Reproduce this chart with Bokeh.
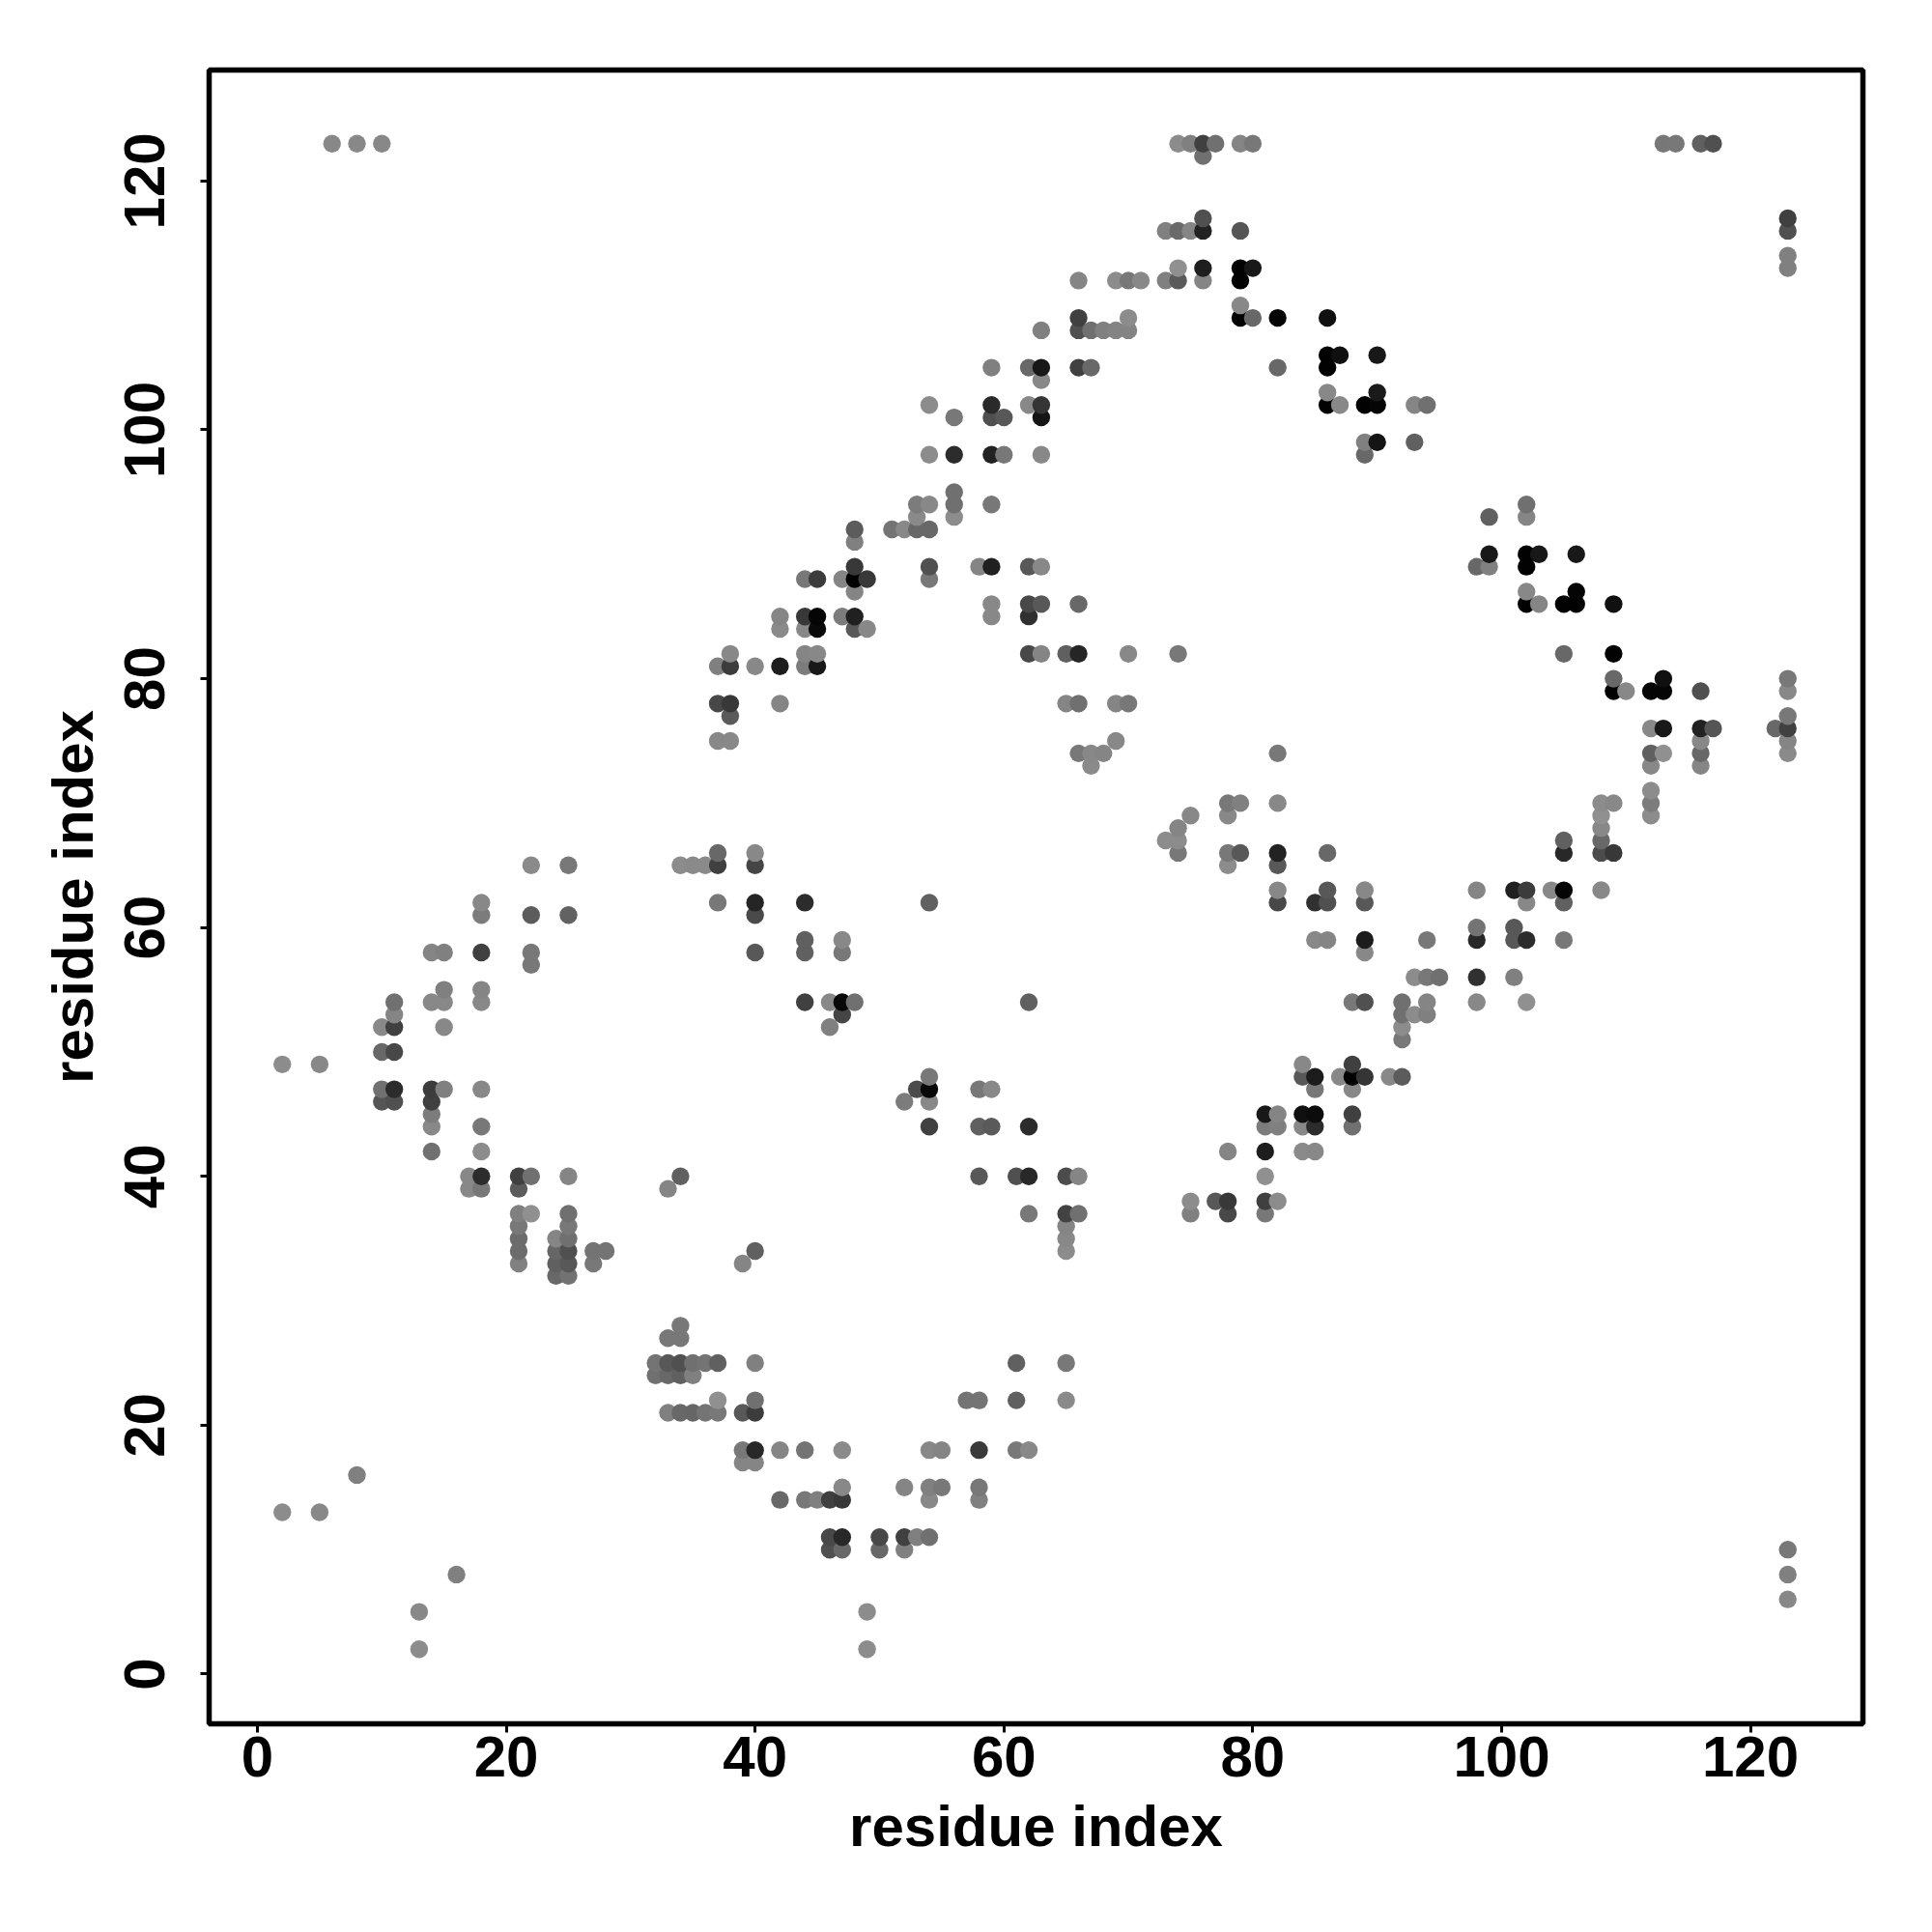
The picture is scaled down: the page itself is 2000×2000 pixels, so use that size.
from bokeh.embed import file_html
from bokeh.models import ColumnDataSource, FixedTicker, Range1d
from bokeh.plotting import figure
from bokeh.resources import INLINE

tick_values = [0, 20, 40, 60, 80, 100, 120]
axis_title = "residue index"

# One line per row of the contact map: residue j, the residues i in that row,
# and the grey level (0 = black, 255 = white) of each dot.
residue_j = (
    [123]*13 + [122]*1 + [117]*2 + [116]*6 + [114]*1 + [113]*5 + [112]*8 + [110]*1 +
    [109]*6 + [108]*6 + [106]*3 + [105]*7 + [104]*1 + [103]*2 + [102]*10 + [101]*4 +
    [99]*3 + [98]*6 + [95]*1 + [94]*5 + [93]*4 + [92]*5 + [91]*1 + [90]*4 + [89]*9 +
    [88]*6 + [87]*3 + [86]*9 + [85]*7 + [84]*5 + [82]*11 + [81]*6 + [80]*3 + [79]*6 +
    [78]*7 + [77]*2 + [76]*6 + [75]*5 + [74]*8 + [73]*3 + [71]*1 + [70]*6 + [69]*4 +
    [68]*2 + [67]*4 + [66]*10 + [65]*9 + [63]*9 + [62]*11 + [61]*4 + [60]*2 + [59]*10 +
    [58]*8 + [57]*1 + [56]*5 + [55]*2 + [54]*15 + [53]*5 + [52]*5 + [51]*1 + [50]*2 +
    [49]*4 + [48]*8 + [47]*11 + [46]*5 + [45]*6 + [44]*11 + [42]*6 + [40]*12 + [39]*4 +
    [38]*5 + [37]*9 + [36]*3 + [35]*4 + [34]*7 + [33]*5 + [32]*2 + [28]*1 + [27]*2 +
    [25]*9 + [24]*4 + [22]*6 + [21]*7 + [18]*10 + [17]*2 + [16]*1 + [15]*5 + [14]*7 +
    [13]*2 + [11]*6 + [10]*5 + [8]*2 + [6]*1 + [5]*2 + [2]*2
)
residue_i = [
    6, 8, 10, 74, 75, 76, 77, 79, 80, 113, 114, 116, 117,
    76,
    76, 123,
    73, 74, 75, 76, 79, 123,
    123,
    74, 76, 79, 80, 123,
    66, 69, 70, 71, 73, 74, 76, 79,
    79,
    66, 70, 79, 80, 82, 86,
    63, 66, 67, 68, 69, 70,
    86, 87, 90,
    59, 62, 63, 66, 67, 82, 86,
    63,
    86, 90,
    54, 59, 62, 63, 86, 87, 89, 90, 93, 94,
    56, 59, 60, 63,
    89, 90, 93,
    54, 56, 59, 60, 63, 89,
    56,
    53, 54, 56, 59, 102,
    53, 56, 99, 102,
    48, 51, 52, 53, 54,
    48,
    99, 102, 103, 106,
    48, 54, 58, 59, 62, 63, 98, 99, 102,
    44, 45, 47, 48, 49, 54,
    48, 102, 106,
    59, 62, 63, 66, 102, 103, 105, 106, 109,
    42, 44, 45, 47, 48, 59, 62,
    42, 44, 45, 48, 49,
    38, 44, 45, 62, 63, 65, 66, 70, 74, 105, 109,
    37, 38, 40, 42, 44, 45,
    109, 113, 123,
    109, 110, 112, 113, 116, 123,
    37, 38, 42, 65, 66, 69, 70,
    38, 123,
    112, 113, 116, 117, 122, 123,
    37, 38, 69, 116, 123,
    66, 67, 68, 82, 112, 113, 116, 123,
    67, 112, 116,
    112,
    78, 79, 82, 108, 109, 112,
    75, 78, 108, 112,
    74, 108,
    73, 74, 105, 108,
    37, 40, 74, 78, 79, 82, 86, 105, 108, 109,
    22, 25, 34, 35, 36, 37, 40, 78, 82,
    82, 86, 89, 98, 101, 102, 104, 105, 108,
    18, 37, 40, 44, 54, 82, 85, 86, 89, 102, 105,
    18, 22, 25, 40,
    98, 101,
    44, 47, 85, 86, 89, 94, 98, 101, 102, 105,
    14, 15, 18, 22, 40, 44, 47, 89,
    22,
    93, 94, 95, 98, 101,
    15, 18,
    11, 14, 15, 18, 44, 46, 47, 48, 62, 88, 89, 92, 94, 98, 102,
    11, 47, 92, 93, 94,
    10, 11, 15, 46, 92,
    92,
    10, 11,
    2, 5, 84, 88,
    54, 84, 85, 87, 88, 89, 91, 92,
    10, 11, 14, 15, 18, 53, 54, 58, 59, 85, 88,
    10, 11, 14, 52, 54,
    14, 81, 82, 84, 85, 88,
    14, 18, 54, 58, 59, 62, 81, 82, 84, 85, 88,
    14, 18, 78, 81, 84, 85,
    17, 18, 21, 22, 25, 34, 58, 61, 62, 65, 66, 81,
    17, 18, 21, 33,
    75, 77, 78, 81, 82,
    21, 22, 25, 62, 65, 66, 75, 78, 81,
    21, 25, 65,
    21, 24, 25, 65,
    21, 24, 25, 27, 28, 40, 65,
    21, 24, 25, 27, 39,
    24, 25,
    34,
    33, 34,
    32, 33, 34, 35, 36, 37, 40, 61, 65,
    32, 33, 34, 35,
    37, 40, 57, 58, 61, 65,
    33, 34, 35, 36, 37, 39, 40,
    39, 40, 42, 44, 47, 54, 55, 58, 61, 62,
    39, 40,
    8,
    47, 52, 54, 55, 58,
    42, 44, 45, 46, 47, 54, 58,
    2, 5,
    46, 47, 50, 52, 53, 54,
    46, 47, 50, 52, 123,
    16, 123,
    123,
    13, 49,
    13, 49,
]
grey_level = [
    0x88, 0x88, 0x88, 0x8c, 0x80, 0x40, 0x70, 0x85, 0x78, 0x77, 0x78, 0x60, 0x50,
    0x70,
    0x50, 0x40,
    0x80, 0x6a, 0x85, 0x22, 0x55, 0x50,
    0x80,
    0x90, 0x1e, 0x02, 0x18, 0x80,
    0x85, 0x8c, 0x78, 0x88, 0x80, 0x5a, 0x85, 0x03,
    0x88,
    0x40, 0x8c, 0x03, 0x68, 0x05, 0x10,
    0x80, 0x50, 0x70, 0x80, 0x84, 0x84,
    0x02, 0x10, 0x18,
    0x80, 0x68, 0x18, 0x40, 0x68, 0x68, 0x02,
    0x88,
    0x88, 0x1a,
    0x8c, 0x2a, 0x88, 0x35, 0x02, 0x88, 0x02, 0x05, 0x85, 0x70,
    0x78, 0x50, 0x58, 0x15,
    0x80, 0x14, 0x60,
    0x8c, 0x2c, 0x22, 0x78, 0x88, 0x68,
    0x70,
    0x7c, 0x88, 0x70, 0x78, 0x70,
    0x8a, 0x8c, 0x60, 0x85,
    0x5c, 0x74, 0x88, 0x68, 0x68,
    0x80,
    0x18, 0x02, 0x18, 0x18,
    0x38, 0x50, 0x85, 0x20, 0x58, 0x88, 0x68, 0x80, 0x02,
    0x78, 0x3c, 0x85, 0x02, 0x38, 0x78,
    0x85, 0x88, 0x05,
    0x88, 0x48, 0x58, 0x68, 0x02, 0x85, 0x02, 0x02, 0x10,
    0x85, 0x38, 0x05, 0x7c, 0x20, 0x88, 0x30,
    0x8a, 0x88, 0x0a, 0x58, 0x88,
    0x88, 0x85, 0x88, 0x48, 0x85, 0x60, 0x25, 0x88, 0x78, 0x68, 0x02,
    0x80, 0x3c, 0x88, 0x1c, 0x7c, 0x18,
    0x68, 0x10, 0x78,
    0x02, 0x88, 0x05, 0x05, 0x50, 0x88,
    0x48, 0x38, 0x85, 0x85, 0x70, 0x85, 0x78,
    0x5a, 0x78,
    0x88, 0x18, 0x22, 0x55, 0x68, 0x40,
    0x88, 0x88, 0x88, 0x88, 0x85,
    0x78, 0x88, 0x85, 0x78, 0x60, 0x90, 0x68, 0x8a,
    0x8a, 0x88, 0x85,
    0x8c,
    0x78, 0x80, 0x88, 0x8c, 0x88, 0x7c,
    0x88, 0x88, 0x90, 0x8c,
    0x85, 0x88,
    0x8c, 0x8c, 0x60, 0x68,
    0x68, 0x88, 0x78, 0x78, 0x58, 0x22, 0x68, 0x28, 0x4c, 0x38,
    0x8a, 0x78, 0x8c, 0x8a, 0x8a, 0x40, 0x45, 0x8c, 0x58,
    0x88, 0x58, 0x88, 0x85, 0x20, 0x3c, 0x88, 0x05, 0x88,
    0x88, 0x78, 0x25, 0x2c, 0x60, 0x48, 0x30, 0x50, 0x58, 0x88, 0x60,
    0x7c, 0x5c, 0x62, 0x4a,
    0x74, 0x58,
    0x60, 0x88, 0x88, 0x85, 0x1c, 0x78, 0x28, 0x58, 0x2c, 0x78,
    0x85, 0x80, 0x40, 0x78, 0x58, 0x60, 0x78, 0x88,
    0x78,
    0x8c, 0x78, 0x70, 0x30, 0x80,
    0x80, 0x85,
    0x70, 0x88, 0x88, 0x88, 0x40, 0x88, 0x08, 0x70, 0x60, 0x78, 0x50, 0x70, 0x85, 0x88, 0x90,
    0x85, 0x45, 0x70, 0x8c, 0x80,
    0x88, 0x40, 0x88, 0x80, 0x8c,
    0x78,
    0x68, 0x48,
    0x8c, 0x88, 0x88, 0x40,
    0x78, 0x58, 0x1c, 0x88, 0x02, 0x35, 0x88, 0x5c,
    0x70, 0x2c, 0x3c, 0x80, 0x88, 0x4c, 0x08, 0x78, 0x88, 0x78, 0x88,
    0x55, 0x50, 0x40, 0x7c, 0x88,
    0x7c, 0x18, 0x85, 0x10, 0x0c, 0x40,
    0x88, 0x78, 0x40, 0x60, 0x5a, 0x2c, 0x7c, 0x80, 0x88, 0x2c, 0x70,
    0x70, 0x8c, 0x85, 0x1e, 0x8a, 0x88,
    0x88, 0x2c, 0x40, 0x70, 0x85, 0x60, 0x58, 0x50, 0x28, 0x4c, 0x85, 0x90,
    0x88, 0x78, 0x5c, 0x85,
    0x8c, 0x58, 0x38, 0x40, 0x8c,
    0x80, 0x90, 0x70, 0x78, 0x42, 0x70, 0x80, 0x48, 0x78,
    0x78, 0x78, 0x85,
    0x6c, 0x85, 0x70, 0x88,
    0x6c, 0x66, 0x50, 0x74, 0x74, 0x60, 0x8c,
    0x80, 0x60, 0x58, 0x78, 0x85,
    0x68, 0x72,
    0x78,
    0x78, 0x78,
    0x74, 0x58, 0x50, 0x70, 0x74, 0x60, 0x80, 0x60, 0x78,
    0x70, 0x68, 0x60, 0x80,
    0x90, 0x70, 0x74, 0x74, 0x60, 0x8a,
    0x80, 0x68, 0x66, 0x74, 0x78, 0x58, 0x3c,
    0x78, 0x28, 0x85, 0x74, 0x8a, 0x88, 0x85, 0x3a, 0x78, 0x88,
    0x85, 0x85,
    0x80,
    0x88, 0x85, 0x80, 0x78, 0x78,
    0x68, 0x78, 0x80, 0x40, 0x38, 0x88, 0x80,
    0x8c, 0x88,
    0x48, 0x28, 0x48, 0x40, 0x80, 0x70,
    0x50, 0x68, 0x68, 0x80, 0x78,
    0x80, 0x80,
    0x88,
    0x88, 0x8c,
    0x8c, 0x8c,
]

assert len(residue_i) == len(residue_j) == len(grey_level), (len(residue_i), len(residue_j), len(grey_level))
order = sorted(range(len(residue_i)), key=lambda k: (residue_i[k], residue_j[k]))
source = ColumnDataSource(dict(
    x=[residue_i[k] for k in order],
    y=[residue_j[k] for k in order],
    c=["#%02x%02x%02x" % (grey_level[k], grey_level[k], grey_level[k]) for k in order],
))

p = figure(
    width=1984, height=1984, output_backend="svg", toolbar_location=None,
    x_range=Range1d(-3.88, 129.04), y_range=Range1d(-4.0, 128.92),
    min_border_left=216, min_border_right=56, min_border_top=72, min_border_bottom=200,
)
p.grid.visible = False
p.background_fill_color = "white"
p.border_fill_color = "white"
p.outline_line_color = "black"
p.outline_line_width = 5.5

p.scatter("x", "y", source=source, size=18.4, marker="circle", fill_color="c", line_color=None)

for ax in (p.xaxis[0], p.yaxis[0]):
    ax.ticker = FixedTicker(ticks=tick_values)
    ax.axis_label = axis_title
    ax.axis_line_color = None
    ax.major_tick_line_color = "black"
    ax.major_tick_line_width = 3
    ax.major_tick_in = 0
    ax.major_tick_out = 9
    ax.minor_tick_line_color = None
    ax.major_label_text_font = "Liberation Sans"
    ax.major_label_text_font_style = "bold"
    ax.major_label_text_font_size = "60px"
    ax.major_label_text_color = "black"
    ax.axis_label_text_font = "Liberation Sans"
    ax.axis_label_text_font_style = "bold"
    ax.axis_label_text_font_size = "60px"
    ax.axis_label_text_color = "black"
p.xaxis[0].major_label_standoff = 4
p.xaxis[0].axis_label_standoff = 15
p.yaxis[0].major_label_standoff = 37
p.yaxis[0].axis_label_standoff = 18
p.yaxis[0].major_label_orientation = "vertical"

open("out.html", "w").write(file_html(p, INLINE))
